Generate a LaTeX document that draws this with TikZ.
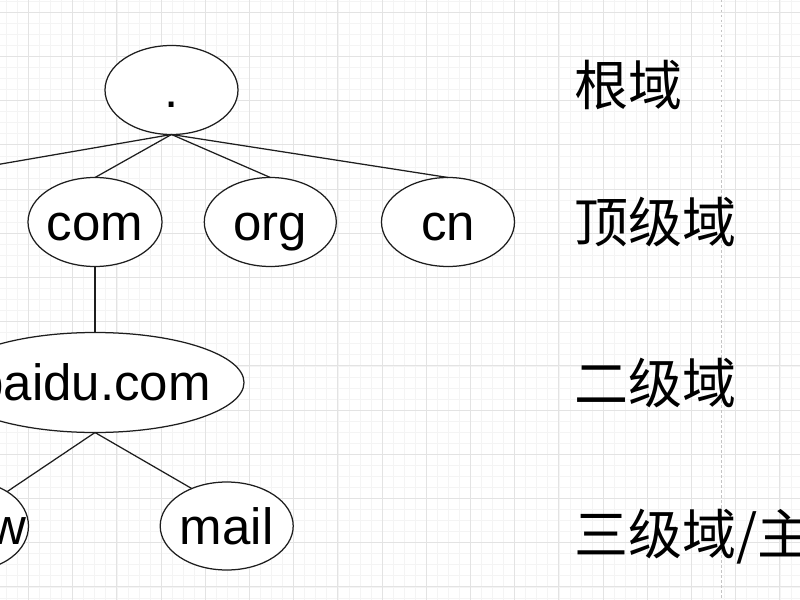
\documentclass[tikz,border=0pt]{standalone}
\usepackage{fontspec}
\setmainfont{Liberation Sans}
\newfontfamily\cjk{Noto Sans CJK SC}
\usetikzlibrary{shapes.geometric}
\newcommand\mkctr[1]{\makebox[0pt][c]{#1}}
\definecolor{gridfine}{HTML}{F4F4F4}
\definecolor{gridmajor}{HTML}{E3E3E3}
\definecolor{pagebrk}{HTML}{C4C4C4}
\definecolor{ink}{HTML}{1E1E1E}
\begin{document}
\begin{tikzpicture}[x=1bp,y=-1bp,
  dom/.style={ellipse, draw=ink, line width=1.25bp, fill=white, inner sep=0pt, outer sep=0pt,
    minimum width=133bp, minimum height=89bp, text height=40bp, text depth=4bp,
    font=\fontsize{51bp}{60bp}\selectfont},
  lvl/.style={anchor=west, inner sep=0pt, font=\cjk\fontsize{54bp}{64bp}\selectfont},
  link/.style={draw=ink, line width=1.25bp},
  finegrid/.style={draw=gridfine, line width=0.8bp},
  majorgrid/.style={draw=gridmajor, line width=1bp}]
\useasboundingbox (0,0) rectangle (800,600);
\fill[white] (0,0) rectangle (800,600);
% fine grid
\foreach \i in {0,...,73} {\draw[finegrid] ({-4.65+11.05*\i},0) -- ({-4.65+11.05*\i},600);}
\foreach \i in {0,...,55} {\draw[finegrid] (0,{1.25+11.05*\i}) -- (800,{1.25+11.05*\i});}
% major grid
\foreach \i in {0,...,17} {\draw[majorgrid] ({28.5+44.2*\i},0) -- ({28.5+44.2*\i},600);}
\foreach \i in {0,...,13} {\draw[majorgrid] (0,{12.3+44.2*\i}) -- (800,{12.3+44.2*\i});}
% page break line
\draw[draw=pagebrk, line width=1bp, dash pattern=on 2.5bp off 2.5bp] (721,0) -- (721,600);

% nodes
\node[dom] (root) at (171.5,90) {\mkctr{.}};
\node[dom, minimum width=134bp] (com) at (95,222) {\mkctr{com}};
\node[dom, minimum width=132bp] (org) at (270.3,222) {\mkctr{org}};
\node[dom] (cn) at (448,222) {\mkctr{cn}};
\coordinate (netN) at (-80,178);
\node[dom, minimum width=298bp, minimum height=100bp] (baidu) at (95,382.5) {\mkctr{\hspace{-4bp}baidu.com}};
\node[dom, minimum width=114bp, minimum height=88bp] (www) at (-28.5,526) {\mkctr{www}};
\node[dom, minimum height=88bp] (mail) at (226.7,526) {\mkctr{mail}};

% connectors
\draw[link] (root.south) -- (netN);
\draw[link] (root.south) -- (com.north);
\draw[link] (root.south) -- (org.north);
\draw[link] (root.south) -- (cn.north);
\draw[link] (com.south) -- (baidu.north);
\draw[link] (baidu.south) -- (www.44);
\draw[link] (baidu.south) -- (mail.133);

% level labels
\node[lvl] (l1) at (574,85) {根域};
\node[lvl] (l2) at (574,222) {顶级域};
\node[lvl] (l3) at (574,383) {二级域};
\node[lvl] (l4) at (574,537) {三级域/主};
\end{tikzpicture}
\end{document}
